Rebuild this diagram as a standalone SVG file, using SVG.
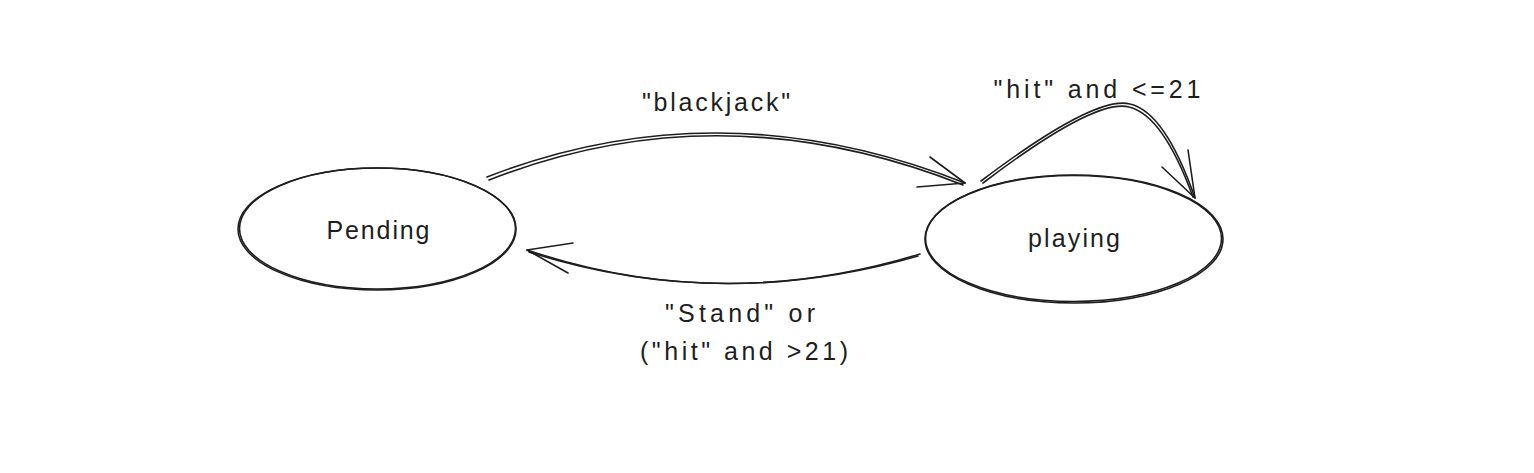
<svg xmlns="http://www.w3.org/2000/svg" width="1534" height="473" viewBox="0 0 1534 473">
<style>
.s{fill:none;stroke:#1e1e1e;stroke-width:1.6;stroke-linecap:round;stroke-linejoin:round}
.t{font-family:"Liberation Sans",Arial,sans-serif;font-size:25px;fill:#1e1e1e;text-anchor:middle}
</style>
<rect width="1534" height="473" fill="#ffffff"/>
<g id="pending">
<ellipse class="s" cx="377" cy="229" rx="139" ry="61"/>
<ellipse class="s" cx="377.5" cy="228.5" rx="138" ry="60.5" stroke-width="1"/>
<text class="t" x="378" y="239" textLength="103" lengthAdjust="spacing">Pending</text>
</g>
<g id="playing">
<ellipse class="s" cx="1074" cy="239" rx="149" ry="64"/>
<ellipse class="s" cx="1073.5" cy="238.5" rx="148" ry="63" stroke-width="1"/>
<text class="t" x="1074" y="247" textLength="92" lengthAdjust="spacing">playing</text>
</g>
<g id="connectors">
<path class="s" d="M487,177 Q720,86 965,183"/>
<path class="s" d="M489,180 Q720,89 963,185" stroke-width="1"/>
<path class="s" d="M965,183 L930,157 M965,183 L917,187"/>
<path class="s" d="M981,181 Q1095,95 1130,104 Q1165,112 1195,198"/>
<path class="s" d="M983,183 Q1095,98 1129,107 Q1163,115 1193,197" stroke-width="1"/>
<path class="s" d="M1195,198 L1188,150 M1195,198 L1162,167"/>
<path class="s" d="M920,254 Q720,315 527,250"/>
<path class="s" d="M918,256 Q720,313 529,252" stroke-width="1"/>
<path class="s" d="M527,250 L573,243 M527,250 L568,273"/>
</g>
<g id="labels">
<text class="t" x="716" y="111" textLength="148" lengthAdjust="spacing">"blackjack"</text>
<text class="t" x="1097" y="98" textLength="207" lengthAdjust="spacing">"hit" and &lt;=21</text>
<text class="t" x="740" y="322" textLength="150" lengthAdjust="spacing">"Stand" or</text>
<text class="t" x="744" y="360" textLength="208" lengthAdjust="spacing">("hit" and &gt;21)</text>
</g>
</svg>
